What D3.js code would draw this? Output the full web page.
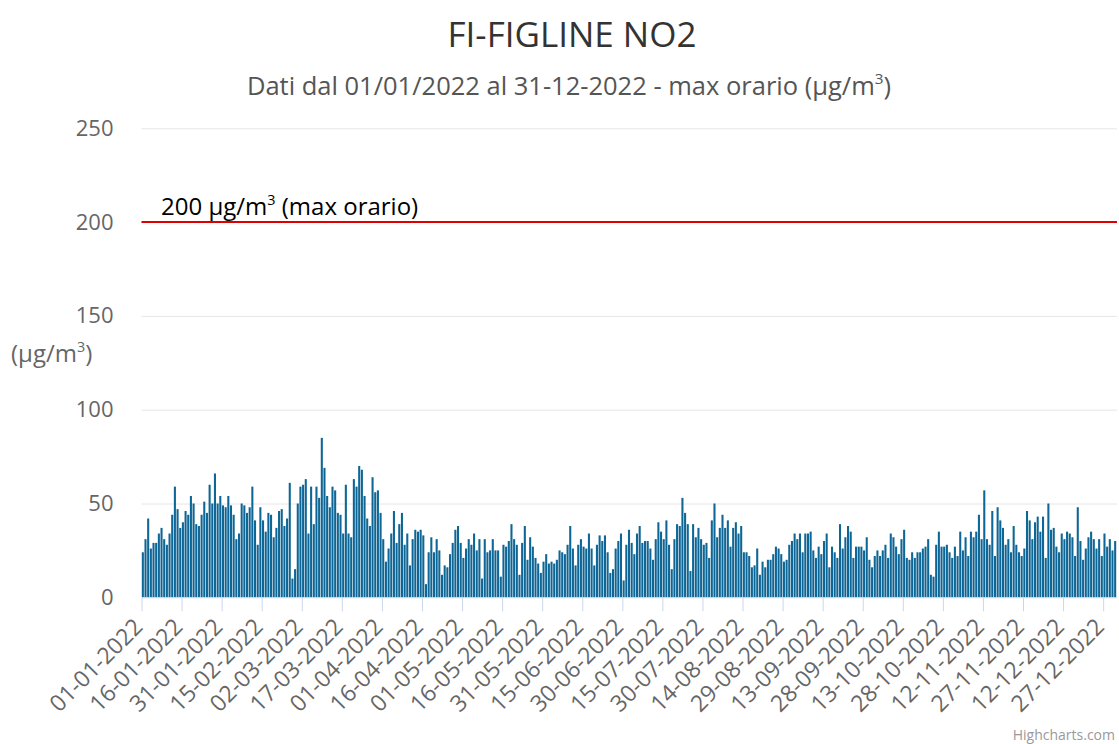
<!DOCTYPE html>
<html>
<head>
<meta charset="utf-8">
<script src="https://cdn.jsdelivr.net/npm/d3@7"></script>
<style>
  body { margin: 0; background: #fff; }
  svg { display: block; }
  text { font-family: "Open Sans", "Noto Sans", sans-serif; }
</style>
</head>
<body>
<svg id="chart" width="1119" height="744"></svg>
<script>
// Daily maximum hourly NO2 at FI-FIGLINE, 2022 (µg/m³), one value per day from 01-01-2022
const startDate = "01-01-2022";
const no2Max = [
  24,31,42,26,29,29,34,37,31,28,
  34,44,59,47,37,40,46,44,54,50,
  39,38,44,51,45,60,50,66,50,54,
  49,48,54,49,44,31,34,50,49,45,
  48,59,41,28,48,41,35,45,44,32,
  37,46,47,38,42,61,10,15,50,59,
  60,63,34,59,39,59,53,85,69,54,
  48,59,57,45,44,34,60,34,32,63,
  59,70,68,54,42,38,64,56,57,45,
  31,19,26,34,46,29,39,45,28,34,
  17,31,36,35,36,33,7,24,32,24,
  31,25,12,17,16,23,29,36,38,29,
  21,26,31,28,34,25,31,10,31,24,
  25,31,25,25,11,28,27,30,39,31,
  28,12,29,38,20,32,27,21,18,13,
  19,23,18,19,18,20,25,24,23,28,
  38,26,17,28,31,27,26,34,26,17,
  28,33,30,33,24,13,15,26,30,34,
  9,28,36,29,23,34,38,29,30,30,
  26,20,31,40,35,31,41,28,15,31,
  39,38,53,45,39,14,39,32,37,31,
  28,29,21,41,50,32,37,44,37,41,
  27,37,40,34,38,24,24,22,16,17,
  26,12,19,16,20,20,23,27,26,23,
  19,20,28,30,34,31,34,24,34,34,
  35,25,21,27,23,30,34,16,27,24,
  21,39,26,32,38,35,21,27,27,27,
  25,32,20,16,22,25,22,25,28,21,
  34,32,27,23,31,36,21,20,24,21,
  24,24,26,27,31,12,11,28,35,27,
  27,28,24,21,27,22,35,25,32,22,
  35,32,35,44,31,57,31,28,46,22,
  48,41,37,28,31,24,38,28,24,22,
  26,46,41,31,40,43,35,43,21,50,
  36,37,27,24,34,31,35,34,32,22,
  48,30,20,26,32,35,31,26,31,22,
  34,27,31,25,30
];
const yTicks = [0, 50, 100, 150, 200, 250];
const xTickLabels = [
  "01-01-2022","16-01-2022","31-01-2022","15-02-2022","02-03-2022","17-03-2022",
  "01-04-2022","16-04-2022","01-05-2022","16-05-2022","31-05-2022","15-06-2022",
  "30-06-2022","15-07-2022","30-07-2022","14-08-2022","29-08-2022","13-09-2022",
  "28-09-2022","13-10-2022","28-10-2022","12-11-2022","27-11-2022","12-12-2022",
  "27-12-2022"
];
const limitValue = 200;
const titleText = "FI-FIGLINE NO2";
const subtitleText = "Dati dal 01/01/2022 al 31-12-2022 - max orario (µg/m";
const unitText = "µg/m";

const svg = d3.select("#chart");
const plot = { left: 141.5, right: 1117, top: 128.3, bottom: 597.3 };

const parse = d3.utcParse("%d-%m-%Y");
const fmt = d3.utcFormat("%d-%m-%Y");
const t0 = parse(startDate);
const dates = no2Max.map((_, i) => d3.utcDay.offset(t0, i));

const x = d3.scaleUtc()
  .domain([t0, d3.utcDay.offset(t0, no2Max.length)])
  .range([plot.left, plot.left + 975]);
const y = d3.scaleLinear().domain([0, 250]).range([plot.bottom, plot.top]);

// "head" + superscript 3 + "tail", offsets in px of the base font size
function withCube(sel, head, tail, fs) {
  const rise = fs * 0.42;
  sel.append("tspan").text(head);
  sel.append("tspan").attr("dy", -rise).attr("font-size", fs * 0.6).text("3");
  sel.append("tspan").attr("dy", rise).text(tail);
}

// Title and subtitle
svg.append("text")
  .attr("x", 572).attr("y", 47)
  .attr("text-anchor", "middle")
  .attr("font-size", 35).attr("fill", "#333")
  .text(titleText);

svg.append("text")
  .attr("x", 569).attr("y", 95)
  .attr("text-anchor", "middle")
  .attr("font-size", 25.5).attr("fill", "#555")
  .call(withCube, subtitleText, ")", 25.5);

// Horizontal grid lines
const grid = svg.append("g").attr("transform", `translate(${plot.left},0)`)
  .call(d3.axisLeft(y).tickValues(yTicks.filter(v => v > 0)).tickSize(-(plot.right - plot.left)).tickFormat(""));
grid.select(".domain").remove();
grid.selectAll(".tick line").attr("stroke", "#e6e6e6").attr("stroke-width", 1);

// Y axis labels
const yAxis = svg.append("g").attr("transform", `translate(${plot.left},0)`)
  .call(d3.axisLeft(y).tickValues(yTicks).tickSize(0).tickPadding(28));
yAxis.select(".domain").remove();
yAxis.selectAll(".tick text")
  .attr("font-family", "\"Open Sans\", sans-serif")
  .attr("font-size", 22).attr("fill", "#666");

// Y axis title (horizontal)
svg.append("text")
  .attr("x", 11).attr("y", 362)
  .attr("font-size", 24).attr("fill", "#666")
  .call(withCube, "(" + unitText, ")", 24);

// Bars
const step = x(dates[1]) - x(dates[0]);
svg.append("g").selectAll("rect")
  .data(no2Max)
  .join("rect")
  .attr("x", (d, i) => x(dates[i]) + 0.3)
  .attr("width", step - 0.6)
  .attr("y", d => y(d))
  .attr("height", d => y(0) - y(d))
  .attr("fill", "#0d6695");

// X axis
const xAxis = svg.append("g").attr("transform", `translate(0,${plot.bottom})`)
  .call(d3.axisBottom(x).tickValues(xTickLabels.map(parse)).tickFormat(fmt).tickSize(14).tickSizeOuter(0));
xAxis.select(".domain").attr("stroke", "#ccd6eb");
xAxis.selectAll(".tick line").attr("stroke", "#ccd6eb");
xAxis.selectAll(".tick text")
  .attr("font-family", "\"Open Sans\", sans-serif")
  .attr("font-size", 23).attr("fill", "#666")
  .attr("text-anchor", "end")
  .attr("y", 0).attr("dy", 0)
  .attr("transform", "translate(2,31) rotate(-45)");

// Limit line at 200
svg.append("line")
  .attr("x1", plot.left).attr("x2", plot.right)
  .attr("y1", y(limitValue)).attr("y2", y(limitValue))
  .attr("stroke", "#e00000").attr("stroke-width", 2);

svg.append("text")
  .attr("x", 161).attr("y", y(limitValue) - 7)
  .attr("font-size", 24).attr("fill", "#000")
  .call(withCube, limitValue + " " + unitText, " (max orario)", 24);

// Credit
svg.append("text")
  .attr("x", 1115).attr("y", 740)
  .attr("text-anchor", "end")
  .attr("font-size", 14).attr("fill", "#999")
  .text("Highcharts.com");
</script>
</body>
</html>
